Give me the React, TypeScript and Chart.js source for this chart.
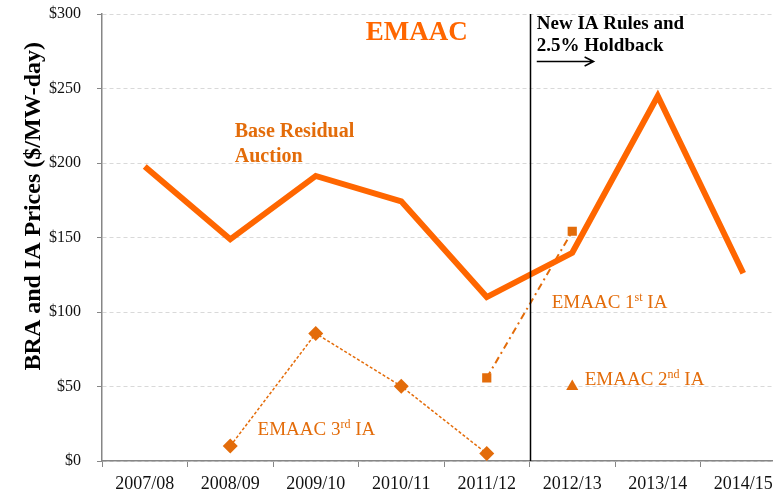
import React, { useEffect, useRef } from "react";
import { Chart, registerables } from "chart.js";

Chart.register(...registerables);

const categories = ["2007/08", "2008/09", "2009/10", "2010/11", "2011/12", "2012/13", "2013/14", "2014/15"];
const braValues = [197.67, 148.8, 191.32, 174.29, 110.0, 139.73, 245.0, 126.0];
const ia1Values = [null, null, null, null, 55.8, 154.2, null, null];
const ia2Values = [null, null, null, null, null, 50.0, null, null];
const ia3Values = [null, 10.0, 85.6, 50.2, 5.0, null, null, null];
const yTicks = [0, 50, 100, 150, 200, 250, 300];

const SERIF = "'Liberation Serif', 'Times New Roman', serif";
const ORANGE = "#FF6600";
const DARK_ORANGE = "#E36C0A";

function fnt(size: number, bold = false) {
  return `${bold ? "bold " : ""}${size}px ${SERIF}`;
}

const annotations = {
  id: "annotations",
  afterDatasetsDraw(chart: any) {
    const { ctx, chartArea, scales } = chart;
    const xs = scales.x;
    const ys = scales.y;
    const step = xs.getPixelForValue(1) - xs.getPixelForValue(0);
    const X = (i: number) => xs.getPixelForValue(0) + step * i;
    const Y = (v: number) => ys.getPixelForValue(v);
    ctx.save();

    // vertical divider between 2011/12 and 2012/13
    ctx.strokeStyle = "#000";
    ctx.lineWidth = 1.5;
    ctx.beginPath();
    const vx = Math.round(X(4.5)) + 0.5;
    ctx.moveTo(vx, chartArea.top);
    ctx.lineTo(vx, chartArea.bottom);
    ctx.stroke();

    // title
    ctx.fillStyle = ORANGE;
    ctx.font = fnt(27, true);
    ctx.textAlign = "center";
    ctx.textBaseline = "middle";
    ctx.fillText("EMAAC", X(3.18), Y(287));

    // Base Residual Auction
    ctx.fillStyle = DARK_ORANGE;
    ctx.font = fnt(20, true);
    ctx.textAlign = "left";
    ctx.fillText("Base Residual", X(1.053), Y(221));
    ctx.fillText("Auction", X(1.053), Y(204));

    // New IA Rules
    ctx.fillStyle = "#000";
    ctx.font = fnt(19, true);
    ctx.fillText("New IA Rules and", X(4.585), Y(293));
    ctx.fillText("2.5% Holdback", X(4.585), Y(278.5));
    // arrow
    const ay = Math.round(Y(268.5)) + 0.5;
    const ax0 = X(4.585);
    const ax1 = X(5.25);
    ctx.lineWidth = 1.5;
    ctx.beginPath();
    ctx.moveTo(ax0, ay);
    ctx.lineTo(ax1, ay);
    ctx.moveTo(ax1 - 9, ay - 4.5);
    ctx.lineTo(ax1, ay);
    ctx.lineTo(ax1 - 9, ay + 4.5);
    ctx.stroke();

    // series labels with superscripts
    const supLabel = (num: string, sup: string, i: number, v: number) => {
      ctx.fillStyle = DARK_ORANGE;
      ctx.textAlign = "left";
      ctx.textBaseline = "alphabetic";
      let x = X(i);
      const y = Y(v);
      ctx.font = fnt(19);
      const a = "EMAAC " + num;
      ctx.fillText(a, x, y);
      x += ctx.measureText(a).width;
      ctx.font = fnt(12);
      ctx.fillText(sup, x, y - 7);
      x += ctx.measureText(sup).width;
      ctx.font = fnt(19);
      ctx.fillText(" IA", x, y);
    };
    supLabel("1", "st", 4.76, 103);
    supLabel("2", "nd", 5.146, 51);
    supLabel("3", "rd", 1.32, 17.4);

    // y axis title
    ctx.fillStyle = "#000";
    ctx.font = fnt(24, true);
    ctx.textAlign = "center";
    ctx.textBaseline = "middle";
    ctx.translate(34, Y(171));
    ctx.rotate(-Math.PI / 2);
    ctx.fillText("BRA and IA Prices ($/MW-day)", 0, 0);
    ctx.restore();
  },
};

export default function App() {
  const ref = useRef<HTMLCanvasElement>(null);
  useEffect(() => {
    if (!ref.current) return;
    const chart = new Chart(ref.current, {
      type: "line",
      data: {
        labels: categories,
        datasets: [
          {
            label: "Base Residual Auction",
            data: braValues,
            borderColor: ORANGE,
            borderWidth: 6,
            pointRadius: 0,
            tension: 0,
            borderJoinStyle: "miter",
          },
          {
            label: "EMAAC 1st IA",
            data: ia1Values as any,
            borderColor: DARK_ORANGE,
            backgroundColor: DARK_ORANGE,
            borderWidth: 2,
            borderDash: [7, 4, 2, 4],
            pointStyle: "rect",
            pointRadius: 6.5,
            pointBorderWidth: 0,
            spanGaps: false,
          },
          {
            label: "EMAAC 2nd IA",
            data: ia2Values as any,
            borderColor: DARK_ORANGE,
            backgroundColor: DARK_ORANGE,
            showLine: false,
            pointStyle: "triangle",
            pointRadius: 7,
            pointBorderWidth: 0,
          },
          {
            label: "EMAAC 3rd IA",
            data: ia3Values as any,
            borderColor: DARK_ORANGE,
            backgroundColor: DARK_ORANGE,
            borderWidth: 1.5,
            borderDash: [3, 2],
            pointStyle: "rectRot",
            pointRadius: 7.5,
            pointBorderWidth: 0,
          },
        ],
      },
      options: {
        animation: false,
        responsive: false,
        layout: { padding: { left: 0, right: 14, top: 14, bottom: 0 } },
        plugins: { legend: { display: false }, tooltip: { enabled: false } },
        scales: {
          x: {
            offset: true,
            grid: {
              display: true,
              drawOnChartArea: false,
              drawTicks: true,
              tickLength: 6,
              tickColor: "#868686",
              offset: true,
            },
            border: { color: "#868686", width: 1.5 },
            ticks: {
              font: { family: SERIF, size: 18 },
              color: "#111",
              padding: 6,
              maxRotation: 0,
              autoSkip: false,
            },
            afterFit: (s: any) => {
              s.height = 36;
              s.paddingLeft = 0;
              s.paddingRight = 0;
            },
          },
          y: {
            min: 0,
            max: 300,
            afterBuildTicks: (s: any) => {
              s.ticks = yTicks.map((v) => ({ value: v }));
            },
            grid: {
              color: "#d9d9d9",
              lineWidth: 1,
              drawTicks: true,
              tickLength: 5,
              tickColor: "#868686",
              tickBorderDash: [],
            } as any,
            border: { color: "#868686", width: 1.5, dash: [4, 3] } as any,
            ticks: {
              font: { family: SERIF, size: 16 },
              color: "#111",
              padding: 16,
              callback: (v: any) => `$${v}`,
            },
            afterFit: (s: any) => {
              s.width = 102;
              s.paddingTop = 0;
              s.paddingBottom = 0;
            },
          },
        },
      },
      plugins: [annotations],
    });
    return () => chart.destroy();
  }, []);
  return (
    <div style={{ position: "fixed", left: 0, top: 0, width: 773, height: 497, overflow: "hidden", background: "#fff" }}>
      <canvas ref={ref} width={800} height={497} style={{ width: 800, height: 497, display: "block" }} />
    </div>
  );
}
